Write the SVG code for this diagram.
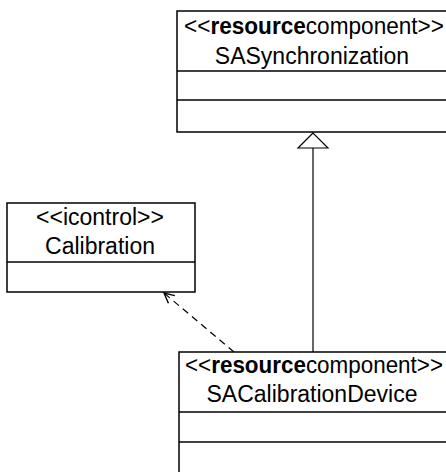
<svg xmlns="http://www.w3.org/2000/svg" width="446" height="472" viewBox="0 0 446 472">
  <style>
    .box { fill: #ffffff; stroke: #000000; stroke-width: 1.5; }
    .sep { stroke: #000000; stroke-width: 1.5; }
    text { font-family: "Liberation Sans", Arial, sans-serif; font-size: 23px; fill: #000000; text-anchor: middle; }
    .kw { font-weight: bold; }
    .edge { fill: none; stroke: #000000; stroke-width: 1.2; }
    .dash { stroke-dasharray: 7 5; }
  </style>
  <defs>
    <marker id="open-arrow" viewBox="0 0 12 12" refX="11" refY="6" markerWidth="12" markerHeight="12" markerUnits="userSpaceOnUse" orient="auto">
      <path d="M1,1 L11,6 L1,11" fill="none" stroke="#000000" stroke-width="1.4"/>
    </marker>
  </defs>
  <rect width="446" height="472" fill="#ffffff"/>

  <g id="connectors">
    <!-- generalization: SACalibrationDevice to SASynchronization -->
    <line class="edge" x1="313" y1="352" x2="313" y2="148"/>
    <polygon points="313,133 298,148 328,148" fill="#ffffff" stroke="#000000" stroke-width="1.2"/>
    <!-- dependency: SACalibrationDevice to Calibration -->
    <line class="edge dash" x1="234" y1="352" x2="164" y2="293" marker-end="url(#open-arrow)"/>
  </g>

  <g id="SASynchronization">
    <rect class="box" x="177" y="11" width="275" height="121"/>
    <line class="sep" x1="177" y1="71" x2="446" y2="71"/>
    <line class="sep" x1="177" y1="100" x2="446" y2="100"/>
    <text x="314" y="34" textLength="260" lengthAdjust="spacingAndGlyphs">&lt;&lt;<tspan class="kw">resource</tspan>component&gt;&gt;</text>
    <text x="312" y="64">SASynchronization</text>
  </g>

  <g id="Calibration">
    <rect class="box" x="7" y="203" width="188" height="89"/>
    <line class="sep" x1="7" y1="262" x2="195" y2="262"/>
    <text x="100" y="225">&lt;&lt;icontrol&gt;&gt;</text>
    <text x="100" y="254">Calibration</text>
  </g>

  <g id="SACalibrationDevice">
    <rect class="box" x="179" y="352" width="273" height="130"/>
    <line class="sep" x1="179" y1="412" x2="446" y2="412"/>
    <line class="sep" x1="179" y1="442" x2="446" y2="442"/>
    <text x="314" y="373" textLength="258" lengthAdjust="spacingAndGlyphs">&lt;&lt;<tspan class="kw">resource</tspan>component&gt;&gt;</text>
    <text x="312" y="402">SACalibrationDevice</text>
  </g>
</svg>
